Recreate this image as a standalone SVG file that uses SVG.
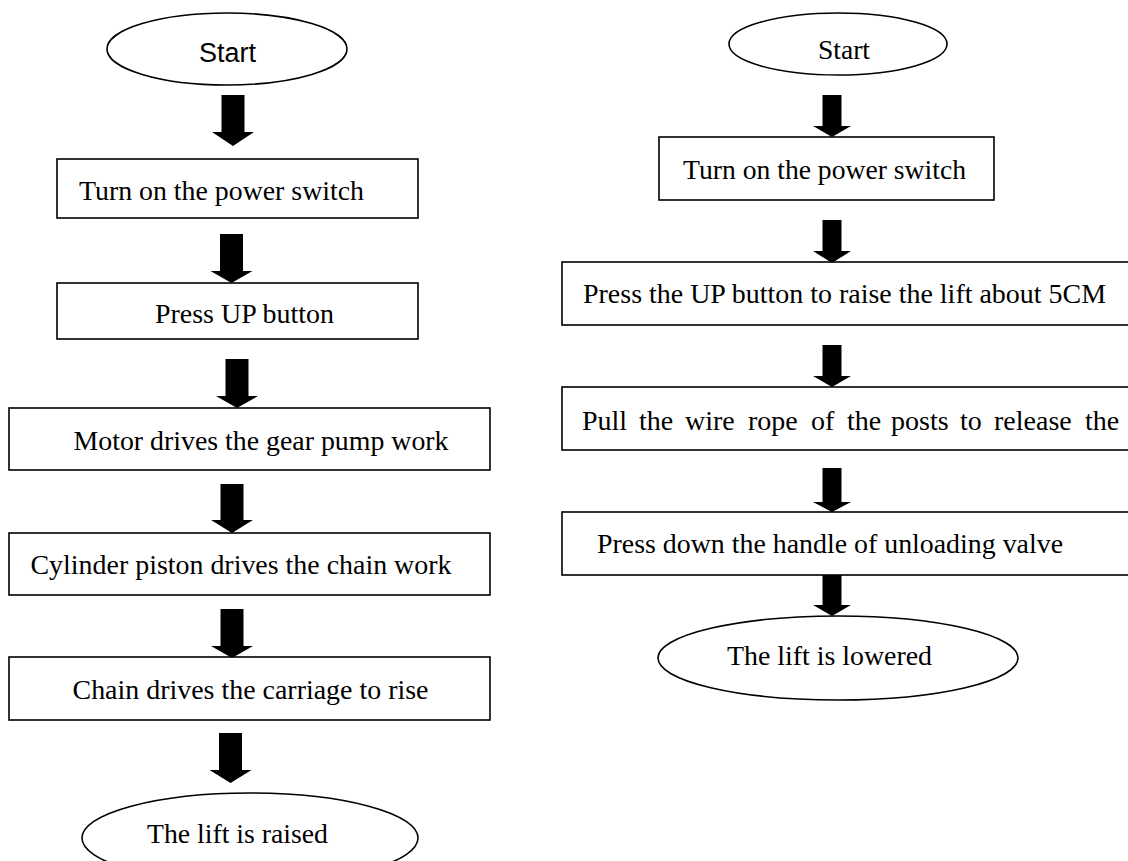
<svg xmlns="http://www.w3.org/2000/svg" width="1128" height="861" viewBox="0 0 1128 861">
<style>
.bg{fill:#ffffff}
.shape{fill:#ffffff;stroke:#000000;stroke-width:1.6}
.arrow{fill:#000000;stroke:none}
.t{font-family:"Liberation Serif","Times New Roman",serif;font-size:28px;fill:#000000}
.s{font-family:"Liberation Sans",Arial,sans-serif;font-size:27px;fill:#000000}
</style>
<rect class="bg" x="0" y="0" width="1128" height="861"/>

<g id="connectors">
  <path class="arrow" d="M221.5 95 H244.5 V132 H254 L233 146 L212 132 H221.5 Z"/>
  <path class="arrow" d="M220 234 H243 V271 H252.5 L231.5 283 L210.5 271 H220 Z"/>
  <path class="arrow" d="M225.5 359 H248.5 V396 H258 L237 408 L216 396 H225.5 Z"/>
  <path class="arrow" d="M220.5 484 H243.5 V520 H253 L232 533 L211 520 H220.5 Z"/>
  <path class="arrow" d="M220.5 609 H243.5 V646 H253 L232 658 L211 646 H220.5 Z"/>
  <path class="arrow" d="M219 733 H242 V770 H251.5 L230.5 783 L209.5 770 H219 Z"/>

  <path class="arrow" d="M822.5 95 H841.5 V126 H851 L832 137 L813 126 H822.5 Z"/>
  <path class="arrow" d="M822.5 220 H841.5 V251 H851 L832 263 L813 251 H822.5 Z"/>
  <path class="arrow" d="M822.5 345 H841.5 V376 H851 L832 387 L813 376 H822.5 Z"/>
  <path class="arrow" d="M822.5 468 H841.5 V502 H851 L832 512 L813 502 H822.5 Z"/>
  <path class="arrow" d="M822.5 575 H841.5 V605 H851 L832 616 L813 605 H822.5 Z"/>
</g>

<g id="L-start">
  <ellipse class="shape" cx="227" cy="49" rx="120" ry="36"/>
  <text class="s" x="227.5" y="62" text-anchor="middle">Start</text>
</g>
<g id="L-power">
  <rect class="shape" x="57" y="159" width="361" height="59"/>
  <text class="t" x="79" y="200" textLength="285" lengthAdjust="spacingAndGlyphs">Turn on the power switch</text>
</g>
<g id="L-up">
  <rect class="shape" x="57" y="283" width="361" height="56"/>
  <text class="t" x="155" y="323" textLength="179" lengthAdjust="spacingAndGlyphs">Press UP button</text>
</g>
<g id="L-motor">
  <rect class="shape" x="9" y="408" width="481" height="62"/>
  <text class="t" x="73.5" y="450" textLength="375" lengthAdjust="spacingAndGlyphs">Motor drives the gear pump work</text>
</g>
<g id="L-cylinder">
  <rect class="shape" x="9" y="533" width="481" height="62"/>
  <text class="t" x="30.5" y="574" textLength="421" lengthAdjust="spacingAndGlyphs">Cylinder piston drives the chain work</text>
</g>
<g id="L-chain">
  <rect class="shape" x="9" y="657" width="481" height="63"/>
  <text class="t" x="72.5" y="699" textLength="356" lengthAdjust="spacingAndGlyphs">Chain drives the carriage to rise</text>
</g>
<g id="L-end">
  <ellipse class="shape" cx="250" cy="838" rx="168" ry="45"/>
  <text class="t" x="147" y="843" textLength="181" lengthAdjust="spacingAndGlyphs">The lift is raised</text>
</g>

<g id="R-start">
  <ellipse class="shape" cx="838" cy="44" rx="109" ry="31"/>
  <text class="t" x="818" y="59" font-size="26" textLength="52" lengthAdjust="spacingAndGlyphs">Start</text>
</g>
<g id="R-power">
  <rect class="shape" x="659" y="137" width="335" height="63"/>
  <text class="t" x="683" y="179" textLength="283" lengthAdjust="spacingAndGlyphs">Turn on the power switch</text>
</g>
<g id="R-up">
  <rect class="shape" x="562" y="262" width="600" height="63"/>
  <text class="t" x="583" y="303" textLength="523" lengthAdjust="spacingAndGlyphs">Press the UP button to raise the lift about 5CM</text>
</g>
<g id="R-pull">
  <rect class="shape" x="562" y="387" width="600" height="63"/>
  <text class="t" y="430"><tspan x="582">Pull</tspan><tspan x="639">the</tspan><tspan x="685">wire</tspan><tspan x="748">rope</tspan><tspan x="811">of</tspan><tspan x="847">the</tspan><tspan x="891">posts</tspan><tspan x="960">to</tspan><tspan x="994">release</tspan><tspan x="1085">the</tspan></text>
</g>
<g id="R-down">
  <rect class="shape" x="562" y="512" width="600" height="63"/>
  <text class="t" x="597" y="553" textLength="466" lengthAdjust="spacingAndGlyphs">Press down the handle of unloading valve</text>
</g>
<g id="R-end">
  <ellipse class="shape" cx="838" cy="658" rx="180" ry="42"/>
  <text class="t" x="727" y="665" textLength="205" lengthAdjust="spacingAndGlyphs">The lift is lowered</text>
</g>
</svg>
